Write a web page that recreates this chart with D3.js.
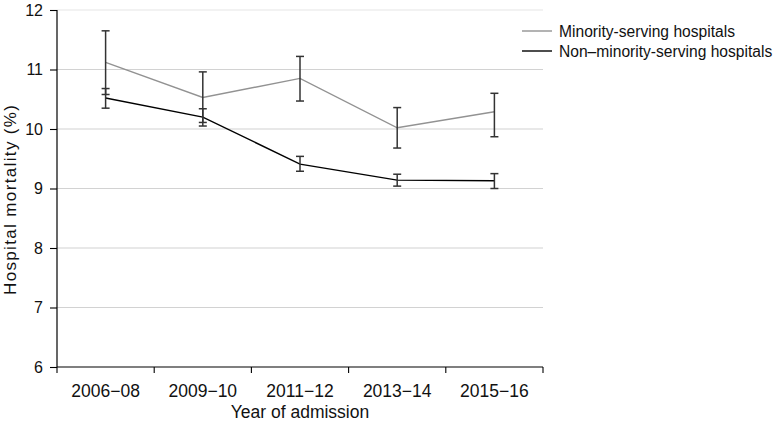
<!DOCTYPE html>
<html>
<head>
<meta charset="utf-8">
<script src="https://cdn.jsdelivr.net/npm/d3@7"></script>
<style>
  body { margin: 0; background: #fff; }
  svg { display: block; font-family: "Liberation Sans", Arial, sans-serif; }
</style>
</head>
<body>
<svg id="chart" width="774" height="423"></svg>
<script>
const categories = ["2006\u221208", "2009\u221210", "2011\u221212", "2013\u221214", "2015\u221216"];
const yTicks = [6, 7, 8, 9, 10, 11, 12];
const seriesNames = ["Minority-serving hospitals", "Non\u2013minority-serving hospitals"];
const minorityValues = [11.12, 10.53, 10.85, 10.02, 10.29];
const minorityLower  = [10.58, 10.11, 10.47, 9.68, 9.87];
const minorityUpper  = [11.65, 10.96, 11.22, 10.36, 10.60];
const nonMinorityValues = [10.52, 10.20, 9.41, 9.14, 9.13];
const nonMinorityLower  = [10.35, 10.05, 9.29, 9.04, 9.00];
const nonMinorityUpper  = [10.68, 10.34, 9.54, 9.24, 9.25];

const series = [
  { name: seriesNames[0], values: minorityValues, lower: minorityLower, upper: minorityUpper, color: "#929292" },
  { name: seriesNames[1], values: nonMinorityValues, lower: nonMinorityLower, upper: nonMinorityUpper, color: "#000000" }
];

const svg = d3.select("#chart");
const pLeft = 57, pRight = 543, pTop = 10, pBottom = 367;

const x = d3.scaleBand().domain(categories).range([pLeft, pRight]);
const y = d3.scaleLinear().domain([6, 12]).range([pBottom, pTop]);

// gridlines
svg.append("g").selectAll("line").data(yTicks.filter(t => t > 6)).join("line")
  .attr("x1", pLeft).attr("x2", pRight)
  .attr("y1", d => y(d)).attr("y2", d => y(d))
  .attr("stroke", d => d === 12 ? "#e6e6e6" : "#d2d2d2").attr("stroke-width", 1.2);

// y axis
const yAxis = svg.append("g").attr("transform", `translate(${pLeft},0)`)
  .call(d3.axisLeft(y).tickValues(yTicks).tickSize(7).tickPadding(7).tickFormat(d3.format("d")));
yAxis.select(".domain").attr("stroke", "#000").attr("stroke-width", 1.2).attr("d", `M0,${pTop}V${pBottom}`);
yAxis.selectAll(".tick line").attr("stroke", "#000").attr("stroke-width", 1.1);
yAxis.selectAll(".tick text").attr("font-size", 16).attr("fill", "#111")
  .attr("font-family", "Liberation Sans, Arial, sans-serif");

// x axis with ticks at band boundaries
const xAxisG = svg.append("g").attr("transform", `translate(0,${pBottom})`);
xAxisG.append("line").attr("x1", pLeft).attr("x2", pRight).attr("y1", 0).attr("y2", 0)
  .attr("stroke", "#000").attr("stroke-width", 1.2);
const boundaries = categories.map(c => x(c)).concat([x(categories[categories.length - 1]) + x.bandwidth()]);
xAxisG.selectAll("line.tk").data(boundaries).join("line").attr("class", "tk")
  .attr("x1", d => d).attr("x2", d => d).attr("y1", 0).attr("y2", 6)
  .attr("stroke", "#000").attr("stroke-width", 1.1);
xAxisG.selectAll("text").data(categories).join("text")
  .attr("x", d => x(d) + x.bandwidth() / 2).attr("y", 29.5)
  .attr("text-anchor", "middle").attr("font-size", 17.5).attr("fill", "#111")
  .text(d => d);

// axis titles
svg.append("text").attr("x", x(categories[2]) + x.bandwidth() / 2).attr("y", 418)
  .attr("text-anchor", "middle").attr("font-size", 17.5).attr("fill", "#111").text("Year of admission");
svg.append("text").attr("transform", `translate(15.5,200) rotate(-90)`)
  .attr("text-anchor", "middle").attr("font-size", 17).attr("fill", "#111")
  .attr("textLength", 190).attr("lengthAdjust", "spacing")
  .text("Hospital mortality (%)");

// lines
const line = d3.line().x((d, i) => x(categories[i]) + x.bandwidth() / 2).y(d => y(d));
svg.append("g").selectAll("path").data(series).join("path")
  .attr("d", s => line(s.values)).attr("fill", "none")
  .attr("stroke", s => s.color).attr("stroke-width", 1.4);

// error bars
const eb = svg.append("g");
series.forEach(s => {
  categories.forEach((c, i) => {
    const cx = x(c) + x.bandwidth() / 2;
    const g = eb.append("g").attr("stroke", "#333").attr("stroke-width", 1.5);
    g.append("line").attr("x1", cx).attr("x2", cx).attr("y1", y(s.lower[i])).attr("y2", y(s.upper[i]));
    g.append("line").attr("x1", cx - 4).attr("x2", cx + 4).attr("y1", y(s.lower[i])).attr("y2", y(s.lower[i]));
    g.append("line").attr("x1", cx - 4).attr("x2", cx + 4).attr("y1", y(s.upper[i])).attr("y2", y(s.upper[i]));
  });
});

// legend
const lg = svg.append("g").selectAll("g").data(series).join("g")
  .attr("transform", (d, i) => `translate(522,${31 + i * 20})`);
lg.append("line").attr("x1", 0).attr("x2", 30).attr("y1", 0).attr("y2", 0)
  .attr("stroke", d => d.color).attr("stroke-width", 1.4);
lg.append("text").attr("x", 37).attr("y", 6.3).attr("font-size", 15.6).attr("fill", "#111").text(d => d.name);
</script>
</body>
</html>
